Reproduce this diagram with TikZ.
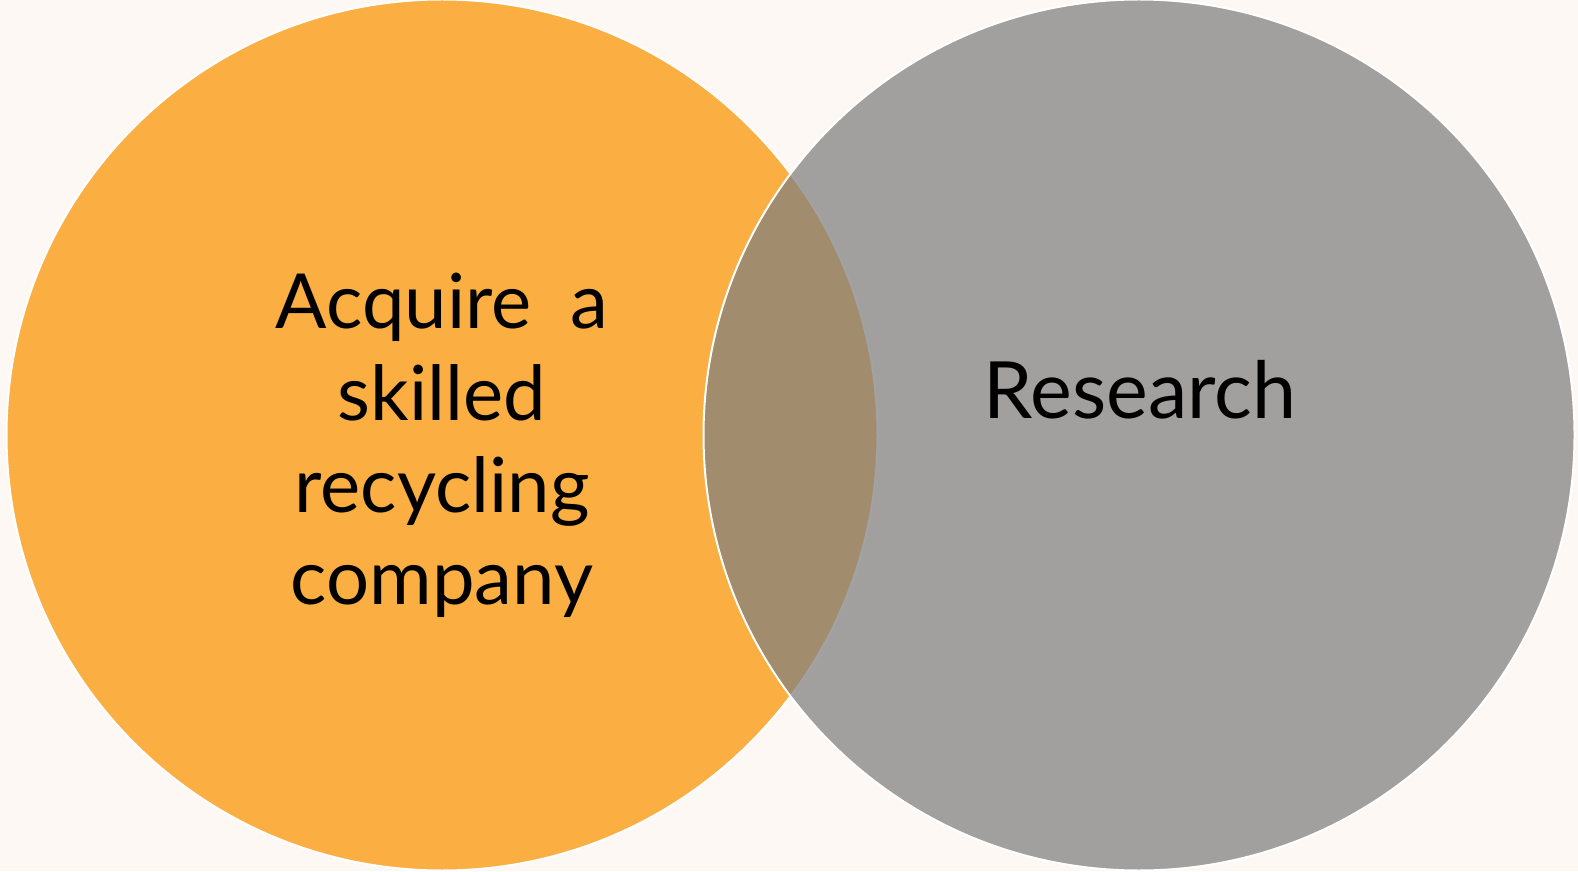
\documentclass[tikz,border=0pt]{standalone}
\usepackage{fontspec}
\setmainfont{Lato}
\usepackage{xcolor}
\usepackage{tikz}

\definecolor{bgcream}{RGB}{254,248,244}
\definecolor{vennorange}{RGB}{251,174,66}
\definecolor{venngray}{RGB}{127,127,127}

\begin{document}
\begin{tikzpicture}[x=1pt, y=1pt,
    venn/.style={circle, draw=white, line width=2pt, inner sep=0pt, minimum size=871pt},
    vennlabel/.style={font=\fontsize{76}{92}\selectfont, align=center, text=black}]
    \fill[bgcream] (0,0) rectangle (1578,871);
    \useasboundingbox (0,0) rectangle (1578,871);

    \node[venn, fill=vennorange] (acquire) at (442,436) {};
    \node[venn, fill=venngray, fill opacity=0.72] (research) at (1139,436) {};

    \node[vennlabel] (acquiretext) at (442,426) {Acquire\ \ a\\skilled\\recycling\\company};
    \node[vennlabel, font=\fontsize{79}{92}\selectfont, anchor=base] (researchtext) at (1140,452) {Research};
\end{tikzpicture}
\end{document}
